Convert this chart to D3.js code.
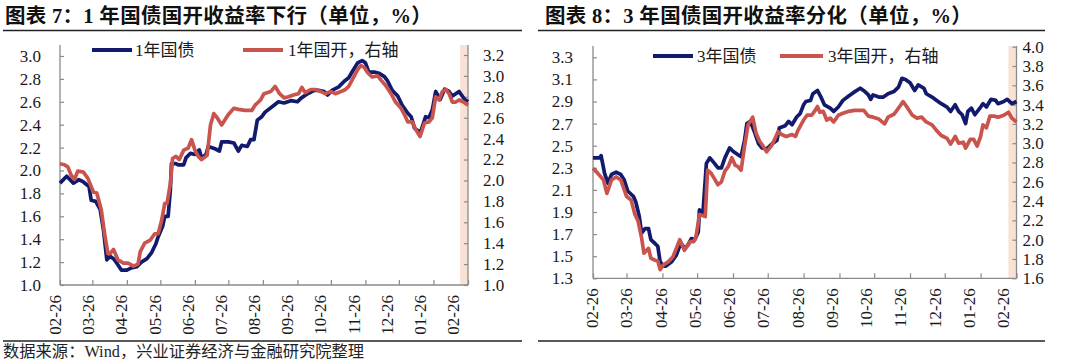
<!DOCTYPE html>
<html><head><meta charset="utf-8">
<script src="https://cdn.jsdelivr.net/npm/d3@7"></script>
<style>body{margin:0;background:#fff}svg{display:block}</style>
</head><body>
<svg id="c" width="1080" height="363"></svg>
<script>
// ---------- data ----------
const tickDates = ["2020-02-26","2020-03-26","2020-04-26","2020-05-26","2020-06-26","2020-07-26","2020-08-26","2020-09-26","2020-10-26","2020-11-26","2020-12-26","2021-01-26","2021-02-26"];
const tickLabels = ["02-26","03-26","04-26","05-26","06-26","07-26","08-26","09-26","10-26","11-26","12-26","01-26","02-26"];
const shadeStart = "2021-02-19";

const left1Ticks = [1.0,1.2,1.4,1.6,1.8,2.0,2.2,2.4,2.6,2.8,3.0];
const right1Ticks = [1.0,1.2,1.4,1.6,1.8,2.0,2.2,2.4,2.6,2.8,3.0,3.2];
const left3Ticks = [1.3,1.5,1.7,1.9,2.1,2.3,2.5,2.7,2.9,3.1,3.3];
const right3Ticks = [1.6,1.8,2.0,2.2,2.4,2.6,2.8,3.0,3.2,3.4,3.6,3.8,4.0];

const titles = ["图表 7：1 年国债国开收益率下行（单位，%）","图表 8：3 年国债国开收益率分化（单位，%）"];
const legendNames1 = ["1年国债","1年国开，右轴"];
const legendNames3 = ["3年国债","3年国开，右轴"];
const sourceText = "数据来源：Wind，兴业证券经济与金融研究院整理";

// 1Y treasury (left axis)
const gov1 = [
["2020-02-26",1.89],["2020-03-03",1.95],["2020-03-09",1.89],["2020-03-14",1.92],["2020-03-18",1.90],["2020-03-23",1.86],
["2020-03-25",1.74],["2020-03-29",1.73],["2020-04-02",1.66],["2020-04-05",1.48],["2020-04-08",1.22],["2020-04-11",1.25],
["2020-04-14",1.23],["2020-04-17",1.19],["2020-04-21",1.13],["2020-04-26",1.13],["2020-04-30",1.15],["2020-05-05",1.16],
["2020-05-09",1.20],["2020-05-14",1.23],["2020-05-18",1.28],["2020-05-22",1.36],["2020-05-24",1.42],["2020-05-28",1.51],
["2020-05-30",1.60],["2020-06-02",1.60],["2020-06-04",1.83],["2020-06-05",2.06],["2020-06-09",2.06],["2020-06-11",2.05],
["2020-06-16",2.05],["2020-06-18",2.11],["2020-06-22",2.15],["2020-06-26",2.14],["2020-06-30",2.18],["2020-07-02",2.11],
["2020-07-06",2.14],["2020-07-08",2.21],["2020-07-14",2.19],["2020-07-18",2.17],["2020-07-20",2.25],["2020-07-26",2.25],
["2020-07-31",2.24],["2020-08-04",2.17],["2020-08-07",2.22],["2020-08-12",2.21],["2020-08-15",2.27],["2020-08-18",2.27],
["2020-08-21",2.44],["2020-08-25",2.47],["2020-08-28",2.51],["2020-09-05",2.57],["2020-09-09",2.60],["2020-09-14",2.59],
["2020-09-20",2.61],["2020-09-26",2.60],["2020-09-29",2.63],["2020-10-05",2.67],["2020-10-11",2.70],["2020-10-15",2.70],
["2020-10-20",2.69],["2020-10-23",2.66],["2020-10-27",2.70],["2020-11-02",2.73],["2020-11-07",2.78],["2020-11-11",2.81],
["2020-11-14",2.86],["2020-11-19",2.94],["2020-11-23",2.96],["2020-11-26",2.94],["2020-11-29",2.86],["2020-12-04",2.86],
["2020-12-08",2.85],["2020-12-13",2.82],["2020-12-16",2.78],["2020-12-20",2.70],["2020-12-25",2.65],["2020-12-29",2.57],
["2021-01-03",2.50],["2021-01-06",2.47],["2021-01-09",2.37],["2021-01-13",2.34],["2021-01-15",2.35],["2021-01-19",2.47],
["2021-01-22",2.46],["2021-01-25",2.53],["2021-01-28",2.69],["2021-02-01",2.62],["2021-02-05",2.71],["2021-02-09",2.69],
["2021-02-12",2.65],["2021-02-18",2.69],["2021-02-23",2.62],["2021-02-26",2.60]];

// 1Y CDB (right axis)
const cdb1 = [
["2020-02-26",2.16],["2020-03-01",2.15],["2020-03-04",2.13],["2020-03-07",2.05],["2020-03-10",2.01],["2020-03-13",2.09],
["2020-03-18",2.08],["2020-03-22",2.02],["2020-03-27",1.89],["2020-03-30",1.88],["2020-04-03",1.72],["2020-04-06",1.49],
["2020-04-09",1.30],["2020-04-11",1.30],["2020-04-14",1.34],["2020-04-18",1.24],["2020-04-23",1.21],["2020-04-27",1.21],
["2020-05-02",1.18],["2020-05-06",1.20],["2020-05-08",1.32],["2020-05-12",1.40],["2020-05-17",1.43],["2020-05-21",1.49],
["2020-05-24",1.49],["2020-05-27",1.61],["2020-05-30",1.78],["2020-06-01",1.78],["2020-06-04",1.97],["2020-06-06",2.21],
["2020-06-09",2.23],["2020-06-12",2.20],["2020-06-16",2.29],["2020-06-20",2.31],["2020-06-23",2.39],["2020-06-26",2.29],
["2020-06-29",2.23],["2020-07-02",2.20],["2020-07-07",2.24],["2020-07-10",2.53],["2020-07-13",2.64],["2020-07-16",2.60],
["2020-07-20",2.53],["2020-07-23",2.58],["2020-07-26",2.63],["2020-07-31",2.69],["2020-08-04",2.68],["2020-08-10",2.67],
["2020-08-16",2.67],["2020-08-19",2.72],["2020-08-24",2.77],["2020-08-27",2.83],["2020-09-02",2.85],["2020-09-06",2.90],
["2020-09-10",2.83],["2020-09-14",2.79],["2020-09-18",2.80],["2020-09-23",2.82],["2020-09-27",2.83],["2020-09-30",2.89],
["2020-10-03",2.84],["2020-10-08",2.87],["2020-10-12",2.87],["2020-10-17",2.85],["2020-10-21",2.83],["2020-10-26",2.85],
["2020-10-30",2.83],["2020-11-04",2.85],["2020-11-08",2.87],["2020-11-11",2.90],["2020-11-14",2.96],["2020-11-19",3.06],
["2020-11-22",3.10],["2020-11-25",3.08],["2020-11-28",3.03],["2020-12-02",2.99],["2020-12-07",3.00],["2020-12-10",2.96],
["2020-12-14",2.91],["2020-12-19",2.83],["2020-12-23",2.75],["2020-12-28",2.69],["2020-12-31",2.63],["2021-01-03",2.56],
["2021-01-07",2.56],["2021-01-10",2.49],["2021-01-14",2.42],["2021-01-18",2.55],["2021-01-22",2.56],["2021-01-25",2.60],
["2021-01-28",2.80],["2021-01-31",2.77],["2021-02-03",2.85],["2021-02-06",2.87],["2021-02-09",2.83],["2021-02-12",2.75],
["2021-02-15",2.75],["2021-02-18",2.77],["2021-02-22",2.75],["2021-02-26",2.72]];

// 3Y treasury (left axis)
const gov3 = [
["2020-02-26",2.39],["2020-03-03",2.39],["2020-03-04",2.41],["2020-03-07",2.25],["2020-03-10",2.16],["2020-03-13",2.24],
["2020-03-17",2.26],["2020-03-21",2.24],["2020-03-24",2.19],["2020-03-27",2.09],["2020-04-01",2.04],["2020-04-03",1.99],
["2020-04-06",1.86],["2020-04-08",1.71],["2020-04-11",1.75],["2020-04-14",1.75],["2020-04-16",1.65],["2020-04-19",1.62],
["2020-04-22",1.59],["2020-04-24",1.45],["2020-04-27",1.41],["2020-04-29",1.41],["2020-05-04",1.45],["2020-05-08",1.51],
["2020-05-12",1.62],["2020-05-15",1.57],["2020-05-18",1.60],["2020-05-21",1.66],["2020-05-24",1.65],["2020-05-27",1.72],
["2020-05-28",1.92],["2020-05-31",1.89],["2020-06-03",2.34],["2020-06-06",2.39],["2020-06-10",2.34],["2020-06-13",2.30],
["2020-06-16",2.30],["2020-06-19",2.39],["2020-06-23",2.48],["2020-06-26",2.45],["2020-06-30",2.42],["2020-07-03",2.40],
["2020-07-06",2.55],["2020-07-08",2.70],["2020-07-11",2.72],["2020-07-14",2.64],["2020-07-18",2.52],["2020-07-21",2.48],
["2020-07-25",2.47],["2020-07-29",2.51],["2020-08-03",2.55],["2020-08-05",2.66],["2020-08-10",2.68],["2020-08-13",2.72],
["2020-08-16",2.69],["2020-08-20",2.76],["2020-08-23",2.79],["2020-08-26",2.87],["2020-08-28",2.90],["2020-09-01",2.91],
["2020-09-03",2.97],["2020-09-07",3.00],["2020-09-10",2.94],["2020-09-13",2.87],["2020-09-18",2.84],["2020-09-21",2.81],
["2020-09-25",2.85],["2020-09-29",2.91],["2020-10-04",2.95],["2020-10-08",2.98],["2020-10-14",3.02],["2020-10-18",2.99],
["2020-10-21",2.96],["2020-10-23",2.92],["2020-10-25",2.96],["2020-10-30",2.94],["2020-11-03",2.94],["2020-11-07",2.97],
["2020-11-12",2.99],["2020-11-16",3.03],["2020-11-19",3.11],["2020-11-22",3.10],["2020-11-26",3.07],["2020-11-30",3.00],
["2020-12-03",3.05],["2020-12-08",3.02],["2020-12-10",2.97],["2020-12-15",2.94],["2020-12-19",2.91],["2020-12-23",2.88],
["2020-12-28",2.85],["2020-12-31",2.81],["2021-01-04",2.87],["2021-01-07",2.81],["2021-01-10",2.78],["2021-01-13",2.70],
["2021-01-15",2.81],["2021-01-18",2.84],["2021-01-21",2.78],["2021-01-26",2.85],["2021-01-28",2.88],["2021-01-31",2.85],
["2021-02-04",2.92],["2021-02-08",2.91],["2021-02-10",2.88],["2021-02-15",2.90],["2021-02-18",2.92],["2021-02-22",2.88],
["2021-02-26",2.90]];

// 3Y CDB (right axis)
const cdb3 = [
["2020-02-26",2.74],["2020-03-01",2.69],["2020-03-06",2.62],["2020-03-09",2.48],["2020-03-13",2.62],["2020-03-17",2.65],
["2020-03-21",2.62],["2020-03-26",2.45],["2020-03-30",2.41],["2020-04-02",2.27],["2020-04-05",2.19],["2020-04-08",2.02],
["2020-04-10",1.86],["2020-04-14",1.91],["2020-04-16",1.81],["2020-04-19",1.79],["2020-04-22",1.78],["2020-04-24",1.69],
["2020-04-27",1.74],["2020-05-01",1.77],["2020-05-05",1.82],["2020-05-08",1.91],["2020-05-11",2.00],["2020-05-15",1.89],
["2020-05-20",1.98],["2020-05-23",1.98],["2020-05-25",2.03],["2020-05-28",2.26],["2020-06-02",2.24],["2020-06-04",2.72],
["2020-06-07",2.69],["2020-06-10",2.63],["2020-06-13",2.57],["2020-06-16",2.60],["2020-06-19",2.71],["2020-06-22",2.76],
["2020-06-25",2.85],["2020-06-28",2.77],["2020-06-30",2.76],["2020-07-03",2.72],["2020-07-06",2.97],["2020-07-09",3.19],
["2020-07-13",3.27],["2020-07-16",3.10],["2020-07-19",3.02],["2020-07-22",2.97],["2020-07-25",2.91],["2020-07-29",2.97],
["2020-08-01",3.04],["2020-08-04",3.12],["2020-08-07",3.09],["2020-08-11",3.07],["2020-08-16",3.09],["2020-08-19",3.07],
["2020-08-21",3.13],["2020-08-26",3.24],["2020-08-29",3.29],["2020-09-02",3.29],["2020-09-05",3.34],["2020-09-07",3.38],
["2020-09-09",3.32],["2020-09-12",3.33],["2020-09-15",3.24],["2020-09-18",3.26],["2020-09-21",3.22],["2020-09-25",3.29],
["2020-09-29",3.31],["2020-10-04",3.33],["2020-10-09",3.34],["2020-10-17",3.34],["2020-10-21",3.28],["2020-10-25",3.27],
["2020-10-30",3.25],["2020-11-04",3.20],["2020-11-07",3.27],["2020-11-12",3.30],["2020-11-14",3.33],["2020-11-17",3.38],
["2020-11-20",3.43],["2020-11-23",3.38],["2020-11-28",3.29],["2020-12-02",3.26],["2020-12-06",3.27],["2020-12-10",3.22],
["2020-12-15",3.19],["2020-12-19",3.13],["2020-12-23",3.08],["2020-12-28",3.05],["2020-12-31",2.99],["2021-01-04",3.07],
["2021-01-07",3.00],["2021-01-11",3.01],["2021-01-13",2.95],["2021-01-17",3.04],["2021-01-20",3.04],["2021-01-23",2.97],
["2021-01-26",3.07],["2021-01-28",3.19],["2021-01-31",3.16],["2021-02-03",3.28],["2021-02-07",3.28],["2021-02-10",3.27],
["2021-02-15",3.29],["2021-02-19",3.32],["2021-02-22",3.26],["2021-02-26",3.22]];

// ---------- drawing ----------
const parse = d3.timeParse("%Y-%m-%d");
const svg = d3.select("#c");
const BLUE = "#111a6c", RED = "#c9534d", AXIS = "#8a8a8a", TXT = "#1a1a1a";
const NUMFONT = "'Liberation Serif','Times New Roman','Noto Sans CJK SC',serif";
const LEGFONT = "'Liberation Serif','Noto Sans CJK SC',serif";

function panel(cfg){
  const g = svg.append("g");
  // title + rules
  g.append("text").attr("x", cfg.titleX).attr("y", 23)
    .attr("font-family", "'Liberation Serif','Noto Sans CJK SC',serif").attr("font-weight", "bold")
    .attr("font-size", 20.5).attr("letter-spacing", 0.3).attr("fill", "#111").text(cfg.title);
  g.append("line").attr("x1", cfg.ruleX0).attr("x2", cfg.ruleX1).attr("y1", 30.5).attr("y2", 30.5)
    .attr("stroke", "#222").attr("stroke-width", 1.6);
  g.append("line").attr("x1", cfg.ruleX0).attr("x2", cfg.ruleX1).attr("y1", 341).attr("y2", 341)
    .attr("stroke", "#222").attr("stroke-width", 1.6);

  const x = d3.scaleTime().domain([parse(tickDates[0]), parse(tickDates[tickDates.length-1])]).range([cfg.x0, cfg.x1]);
  const yL = d3.scaleLinear().domain([cfg.lTicks[0], cfg.lTicks[cfg.lTicks.length-1]]).range([cfg.yb, cfg.lTopPx]);
  const yR = d3.scaleLinear().domain([cfg.rTicks[0], cfg.rTicks[cfg.rTicks.length-1]]).range([cfg.yb, cfg.rTopPx]);
  // label placement (labels drift slightly left of their ticks, as in the original)
  const labX = d3.scaleLinear().domain([0, tickLabels.length - 1]).range(cfg.labRange);

  // shade
  g.append("rect").attr("x", x(parse(shadeStart))).attr("y", cfg.top)
    .attr("width", x(parse(tickDates[tickDates.length-1])) - x(parse(shadeStart)))
    .attr("height", cfg.yb - cfg.top).attr("fill", "#f9e1d3");

  // axes
  const ax = g.append("g").attr("transform", `translate(${cfg.x0},0)`)
    .call(d3.axisLeft(yL).tickValues(cfg.lTicks).tickSize(-4).tickPadding(cfg.lPad).tickFormat(d3.format(".1f")));
  const ar = g.append("g").attr("transform", `translate(${cfg.x1},0)`)
    .call(d3.axisRight(yR).tickValues(cfg.rTicks).tickSize(-4).tickPadding(cfg.rPad).tickFormat(d3.format(".1f")));
  const ab = g.append("g").attr("transform", `translate(0,${cfg.yb})`)
    .call(d3.axisBottom(x).tickValues(tickDates.map(parse)).tickSize(-5).tickFormat((d,i)=>tickLabels[i]));
  [ax, ar, ab].forEach(a => {
    a.select(".domain").remove();
    a.selectAll(".tick line").attr("stroke", AXIS).attr("stroke-width", 1.2);
    a.selectAll("text").attr("font-family", NUMFONT).attr("font-size", 17).attr("fill", TXT);
  });
  ab.selectAll("text").attr("x", null).attr("y", null).attr("dy", null)
    .attr("text-anchor", "end")
    .attr("transform", (d,i) => `translate(${labX(i) - x(d) + 5.5},${cfg.labGap}) rotate(-90)`);
  // axis lines
  g.append("line").attr("x1", cfg.x0).attr("x2", cfg.x0).attr("y1", cfg.top).attr("y2", cfg.yb).attr("stroke", AXIS).attr("stroke-width", 1.3);
  g.append("line").attr("x1", cfg.x1).attr("x2", cfg.x1).attr("y1", cfg.top).attr("y2", cfg.yb).attr("stroke", AXIS).attr("stroke-width", 1.3);
  g.append("line").attr("x1", cfg.x0).attr("x2", cfg.x1).attr("y1", cfg.yb).attr("y2", cfg.yb).attr("stroke", AXIS).attr("stroke-width", 1.3);

  // lines
  const lineL = d3.line().x(d => x(parse(d[0]))).y(d => yL(d[1]));
  const lineR = d3.line().x(d => x(parse(d[0]))).y(d => yR(d[1]));
  g.append("path").attr("d", lineL(cfg.gov)).attr("fill", "none").attr("stroke", BLUE)
    .attr("stroke-width", 3.7).attr("stroke-linejoin", "round");
  g.append("path").attr("d", lineR(cfg.cdb)).attr("fill", "none").attr("stroke", RED)
    .attr("stroke-width", 3.7).attr("stroke-linejoin", "round");

  // legend
  const lg = cfg.legend;
  [[BLUE, lg.b], [RED, lg.r]].forEach(([c, p], i) => {
    g.append("line").attr("x1", p[0]).attr("x2", p[1]).attr("y1", lg.y).attr("y2", lg.y)
      .attr("stroke", c).attr("stroke-width", 3.8);
    g.append("text").attr("x", p[2]).attr("y", lg.y + 6).attr("font-family", LEGFONT)
      .attr("font-size", 17).attr("fill", TXT).text(cfg.names[i]);
  });
}

panel({title: titles[0], titleX: 5, ruleX0: 3, ruleX1: 522,
  x0: 60, x1: 468, yb: 285, top: 45, lTicks: left1Ticks, rTicks: right1Ticks, lTopPx: 56, rTopPx: 55,
  lPad: 19, rPad: 15, labGap: 10, labRange: [55, 453], gov: gov1, cdb: cdb1, names: legendNames1,
  legend: {y: 50, b: [92, 132, 135], r: [243, 283, 288]}});
panel({title: titles[1], titleX: 545, ruleX0: 538, ruleX1: 1045,
  x0: 593, x1: 1016.5, yb: 278.3, top: 46, lTicks: left3Ticks, rTicks: right3Ticks, lTopPx: 57.3, rTopPx: 46.7,
  lPad: 20, rPad: 6, labGap: 10, labRange: [592, 1003], gov: gov3, cdb: cdb3, names: legendNames3,
  legend: {y: 56, b: [653, 693, 697], r: [780, 823, 828]}});

svg.append("text").attr("x", 3).attr("y", 357).attr("font-family", "'Liberation Serif','Noto Sans CJK SC',serif")
  .attr("font-size", 16.3).attr("fill", "#222").text(sourceText);
</script>
</body></html>
